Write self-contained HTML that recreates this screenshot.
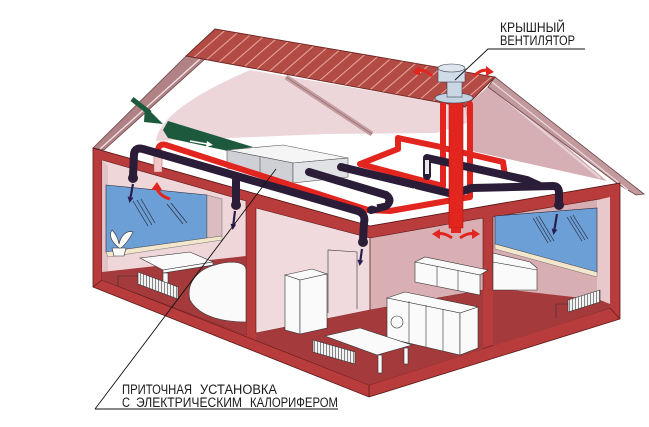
<!DOCTYPE html>
<html><head><meta charset="utf-8"><style>
html,body{margin:0;padding:0;background:#fff;}
svg{display:block;}
text{font-family:"Liberation Sans","DejaVu Sans",sans-serif;fill:#1a1a1a;}
</style></head><body>
<svg width="649" height="427" viewBox="0 0 649 427" xmlns="http://www.w3.org/2000/svg">
<defs>
<pattern id="rs" width="10" height="10" patternUnits="userSpaceOnUse" patternTransform="rotate(49)">
<rect width="10" height="10" fill="#b24b44"/><line x1="0.5" y1="0" x2="0.5" y2="10" stroke="#e8a59d" stroke-width="1.1"/></pattern>
<pattern id="rad" width="3" height="20" patternUnits="userSpaceOnUse">
<rect width="3" height="20" fill="#f3f3f3"/><line x1="2.4" y1="0" x2="2.4" y2="20" stroke="#6b6b6b" stroke-width="0.8"/></pattern>
<marker id="nav" markerWidth="6" markerHeight="6" refX="3" refY="3" orient="auto" markerUnits="userSpaceOnUse">
<path d="M0,0 L6,3 L0,6 Z" fill="#2b1d50"/></marker>
</defs>

<!-- attic background pink (underside of back roof) -->
<path d="M156,141 C158,122 185,98 250,70 L465,107 L470,122 L436,133 L325,134 Z" fill="#ecd6d9"/>
<!-- right attic mauve -->
<path d="M465,107 L492,83 L607,181 L472,151 Z" fill="#d6afb4"/>
<line x1="496" y1="92" x2="600" y2="178" stroke="#e9d3d6" stroke-width="2"/>
<!-- rear roof edge band -->
<line x1="286" y1="77" x2="372" y2="134" stroke="#c39ca0" stroke-width="5"/>
<line x1="286" y1="77" x2="372" y2="134" stroke="#8a6064" stroke-width="0.6"/>

<!-- left gable band -->
<polygon points="186,56 206,58 104,150 93,148" fill="#b08286" stroke="#6a4649" stroke-width="0.8"/>
<line x1="200" y1="59" x2="100" y2="149" stroke="#f2e4e4" stroke-width="1.3"/>
<!-- right gable band -->
<polygon points="495,77 644,194 636,195 618,184 488,87" fill="#c29a9e" stroke="#6a4649" stroke-width="0.8"/>
<line x1="492" y1="82" x2="628" y2="190" stroke="#ecd9db" stroke-width="1.2"/>

<!-- roof -->
<polygon points="186,56 215,29 495,77 465,107" fill="url(#rs)" stroke="#6f2623" stroke-width="0.9"/>

<!-- house base red -->
<polygon points="93,148 370,226 620,183 620,319 369,397 93,287" fill="#b73c3b" stroke="#5a1818" stroke-width="0.8"/>
<line x1="369" y1="385" x2="369" y2="397" stroke="#5a1818" stroke-width="0.8"/>
<polyline points="93,287 102,280 369,385 610,308 620,319" fill="none" stroke="#5a1818" stroke-width="0.6"/>

<!-- living room -->
<polygon points="102,160 246,201 246,335 102,280" fill="#eed6d9" stroke="#5a1818" stroke-width="0.6"/>
<polygon points="102,160 108,166 108,275 102,280" fill="#e2c2c6"/>
<polygon points="102,272 246,256 246,335 102,280" fill="#a43a3b"/>
<polygon points="106,185 207,195 207,238 106,252" fill="#6c9fd6" stroke="#2d2d3d" stroke-width="0.6"/>
<polygon points="207,195 222,199 222,236 207,238" fill="#dcbcc0" stroke="#555" stroke-width="0.4"/>
<polygon points="106,252 207,238 222,236 222,240 108,257" fill="#f2e6cc" stroke="#555" stroke-width="0.4"/>
<g stroke="#2a2a3a" stroke-width="0.7">
<line x1="133" y1="201" x2="148" y2="226"/><line x1="137" y1="200" x2="152" y2="225"/><line x1="141" y1="199" x2="155" y2="223"/>
<line x1="167" y1="204" x2="183" y2="224"/><line x1="171" y1="203" x2="187" y2="223"/>
</g>

<!-- kitchen -->
<polygon points="256,208 370,238 370,310 256,333" fill="#f0dadd" stroke="#5a1818" stroke-width="0.6"/>
<polygon points="370,238 483,218 483,290 370,310" fill="#d9afb3" stroke="#5a1818" stroke-width="0.6"/>
<polygon points="256,333 370,310 483,290 483,349 369,385 256,340" fill="#a43a3b"/>
<line x1="370" y1="238" x2="370" y2="310" stroke="#6a3a3d" stroke-width="0.6"/>
<polyline points="328,313 328,250 357,252 357,309" fill="none" stroke="#333" stroke-width="0.6"/>

<!-- bedroom -->
<polygon points="493,217 600,199 600,302 493,288" fill="#d7aeb2" stroke="#5a1818" stroke-width="0.6"/>
<polygon points="597,200 610,197 610,305 597,300" fill="#e8c8cb"/>
<polygon points="493,288 600,300 610,304 610,308 493,346" fill="#a43a3b"/>
<polygon points="495,216 597,208 597,272 495,244" fill="#6c9fd6" stroke="#2d2d3d" stroke-width="0.6"/>
<polygon points="495,244 597,272 597,277 495,249" fill="#f2e6cc" stroke="#555" stroke-width="0.4"/>
<g stroke="#2a2a3a" stroke-width="0.7">
<line x1="533" y1="218" x2="548" y2="243"/><line x1="536" y1="217" x2="551" y2="242"/><line x1="539" y1="216" x2="554" y2="241"/>
<line x1="567" y1="217" x2="582" y2="241"/><line x1="570" y1="216" x2="585" y2="240"/><line x1="573" y1="215" x2="588" y2="239"/>
</g>

<!-- furniture: living room -->
<g stroke="#333" stroke-width="0.6" fill="#fafafa">
<path d="M112,248 L126,248 L124,256 L114,256 Z"/>
<path d="M119,248 C112,242 108,236 112,230 C116,234 118,238 119,244 C121,236 126,230 133,232 C130,238 126,244 121,248 Z"/>
<polygon points="140,258 190,252 213,262 163,270"/>
<polygon points="163,270 213,262 213,265 163,273"/>
<rect x="163" y="273" width="5" height="16"/>
<path d="M190,300 C186,285 196,270 215,265 C232,260 246,262 246,270 L246,322 C226,322 200,318 190,300 Z"/>
<polygon points="138,272 178,287 178,299 138,284" fill="url(#rad)"/>
<path d="M118,286 L118,276 L138,276" fill="none"/>
</g>
<!-- furniture: kitchen -->
<g stroke="#333" stroke-width="0.6" fill="#fafafa">
<polygon points="285,275 312,269 327,274 300,280"/>
<polygon points="285,275 300,280 300,334 285,330"/>
<polygon points="300,280 327,274 327,328 300,334"/>
<polygon points="415,262 425,257 488,270 480,275"/>
<polygon points="415,262 480,275 480,295 415,282"/>
<line x1="437" y1="266" x2="437" y2="286"/><line x1="458" y1="271" x2="458" y2="291"/>
<polygon points="387,298 405,292 478,307 460,313"/>
<polygon points="387,298 460,313 460,355 387,338"/>
<polygon points="460,313 478,307 478,348 460,355"/>
<circle cx="397" cy="322" r="6"/>
<line x1="409" y1="301" x2="409" y2="343"/><line x1="426" y1="305" x2="426" y2="347"/><line x1="443" y1="309" x2="443" y2="351"/>
<polygon points="325,336 360,328 412,345 377,355"/>
<rect x="378" y="355" width="4" height="18"/><rect x="404" y="348" width="4" height="16"/>
<polygon points="313,340 355,352 355,364 313,352" fill="url(#rad)"/>
</g>
<!-- furniture: bedroom -->
<g stroke="#333" stroke-width="0.6" fill="#fafafa">
<polygon points="493,253 530,262 537,268 537,290 493,290"/>
<line x1="493" y1="262" x2="537" y2="270"/>
<polygon points="568,300 600,290 600,302 568,312" fill="url(#rad)"/>
<path d="M556,318 L556,304 L568,304" fill="none"/>
</g>

<!-- attic floor front edge line -->
<polyline points="93,148 370,226 620,183" fill="none" stroke="#5a1818" stroke-width="0.6"/>

<!-- green intake -->
<path d="M132,99 L150,113" stroke="#1d5a3d" stroke-width="5"/>
<polygon points="145,106 163,124 144,122" fill="#1d5a3d"/>
<polygon points="168,121 253,147 228,151 168,138 163,130" fill="#1d5a3d"/>
<path d="M190,141 L207,144" stroke="#fff" stroke-width="1.5"/><polygon points="207,141 213,145 206,147" fill="#fff"/>

<!-- air handling box -->
<polygon points="227,150 283,145 348,158 293,163" fill="#f5f5f5" stroke="#555" stroke-width="0.6"/>
<polygon points="227,150 293,163 293,183 227,168" fill="#cfd0d6" stroke="#555" stroke-width="0.6"/>
<polygon points="293,163 348,158 348,177 293,183" fill="#e1e2e6" stroke="#555" stroke-width="0.6"/>
<line x1="260" y1="157" x2="260" y2="176" stroke="#555" stroke-width="0.6"/>

<!-- red pipes -->
<rect x="154" y="150" width="8" height="22" fill="#f0c8c8" stroke="#b55" stroke-width="0.5"/>
<g fill="none" stroke="#e2251f" stroke-width="6" stroke-linejoin="round" stroke-linecap="round">
<path d="M158,150 Q159,143 166,145 L368,210 L390,211 L470,197 L470,104"/>
<path d="M443,104 L443,186"/>
<path d="M443,148 L503,162 L505,176"/>
<path d="M398,138 L441,147"/>
<path d="M398,138 L398,149 L360,164 L443,186"/>
</g>

<!-- black pipes -->
<g fill="none" stroke="#2b1d38" stroke-width="8" stroke-linejoin="round" stroke-linecap="round">
<path d="M133,176 L134,154 Q135,147 143,149 L358,211 Q366,214 364,223 L363,240"/>
<path d="M236,180 L236,203"/>
<path d="M309,172 L386,195 Q393,200 386,206 L371,210"/>
<path d="M341,167 L453,194 L472,188 L553,186 Q559,186 559,193 L559,203"/>
<path d="M427,176 L427,158 L527,180 L540,186"/>
</g>
<g fill="#2b1d38"><circle cx="133" cy="178" r="5"/><circle cx="236" cy="205" r="5"/><circle cx="363" cy="242" r="5"/><circle cx="559" cy="205" r="5"/></g>
<rect x="425" y="160" width="4" height="14" fill="#e8e8e8"/>
<!-- white arrows in pipes -->
<path d="M385,202 L375,204" stroke="#fff" stroke-width="1.4"/><polygon points="376,201 370,205 377,207" fill="#fff"/>
<path d="M405,189 L415,191" stroke="#fff" stroke-width="1.4"/><polygon points="414,188 420,192 413,194" fill="#fff"/>

<!-- red riser -->
<rect x="449" y="100" width="14" height="128" fill="#e2251f" stroke="#b51612" stroke-width="0.6"/>
<rect x="451" y="228" width="10" height="5" fill="#e2251f"/>
<!-- vent -->
<ellipse cx="454" cy="98" rx="19" ry="5" fill="#c3d2e0" stroke="#445" stroke-width="0.6"/>
<rect x="447" y="80" width="15" height="17" fill="#c9d6e3" stroke="#445" stroke-width="0.6"/>
<rect x="438" y="68" width="27" height="14" fill="#d0dce8" stroke="#445" stroke-width="0.6"/>
<ellipse cx="451.5" cy="68" rx="13.5" ry="4" fill="#dde6ef" stroke="#445" stroke-width="0.6"/>
<!-- red roof arrows -->
<path d="M432,76 Q424,68 417,71" fill="none" stroke="#e2251f" stroke-width="3"/><polygon points="412,72 420,66 420,76" fill="#e2251f"/>
<path d="M474,76 Q482,68 489,71" fill="none" stroke="#e2251f" stroke-width="3"/><polygon points="494,72 486,66 486,76" fill="#e2251f"/>
<!-- red diffuser arrows -->
<path d="M452,238 Q444,232 436,234" fill="none" stroke="#e2251f" stroke-width="3"/><polygon points="432,234 440,229 440,239" fill="#e2251f"/>
<path d="M460,238 Q468,232 476,234" fill="none" stroke="#e2251f" stroke-width="3"/><polygon points="480,234 472,229 472,239" fill="#e2251f"/>
<!-- red curved arrow living room -->
<path d="M170,199 Q160,196 157,189" fill="none" stroke="#e2251f" stroke-width="3"/><polygon points="151,190 157,182 162,190" fill="#e2251f"/>

<!-- navy arrows -->
<g stroke="#2b1d50" stroke-width="2.2" marker-end="url(#nav)">
<line x1="133" y1="184" x2="130" y2="200"/>
<line x1="235" y1="211" x2="233" y2="227"/>
<line x1="362" y1="249" x2="360" y2="263"/>
<line x1="557" y1="214" x2="554" y2="232"/>
</g>

<!-- leader lines -->
<g stroke="#111" stroke-width="0.9" fill="none">
<path d="M95,409 L276,169"/><path d="M95,409 L338,409"/>
<path d="M455,80 L488,49 L585,49"/>
</g>

<!-- labels -->
<text x="500" y="32" font-size="13.5" textLength="65" lengthAdjust="spacingAndGlyphs">КРЫШНЫЙ</text>
<text x="500" y="45" font-size="13.5" textLength="75" lengthAdjust="spacingAndGlyphs">ВЕНТИЛЯТОР</text>
<text x="122" y="394" font-size="13.5" textLength="70" lengthAdjust="spacingAndGlyphs">ПРИТОЧНАЯ</text>
<text x="200" y="394" font-size="13.5" textLength="77" lengthAdjust="spacingAndGlyphs">УСТАНОВКА</text>
<text x="122" y="407" font-size="13.5" textLength="8" lengthAdjust="spacingAndGlyphs">С</text>
<text x="136" y="407" font-size="13.5" textLength="106" lengthAdjust="spacingAndGlyphs">ЭЛЕКТРИЧЕСКИМ</text>
<text x="250" y="407" font-size="13.5" textLength="88" lengthAdjust="spacingAndGlyphs">КАЛОРИФЕРОМ</text>
</svg>
</body></html>
